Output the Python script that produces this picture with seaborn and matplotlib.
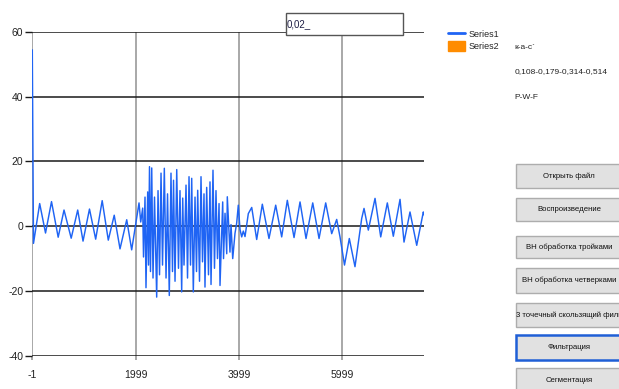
import matplotlib
matplotlib.use("Agg")
import matplotlib.pyplot as plt
from matplotlib.patches import Rectangle, Patch
from matplotlib.lines import Line2D
import seaborn as sns
import pandas as pd

# ---------------- data ----------------
sample_x = [
    -1, 22, 142, 255, 371, 500, 613, 752, 878, 981, 1106, 1226, 1352, 1470, 1585, 1697,
    1827, 1923, 2065, 2098, 2136,
    2152, 2181, 2200, 2233, 2249, 2268, 2287, 2311, 2336, 2365, 2407, 2433, 2462, 2491,
    2520, 2555, 2588, 2617, 2651, 2684, 2713, 2733, 2762, 2795, 2829, 2858, 2891, 2911,
    2936, 2975, 3004, 3033, 3062, 3085, 3116, 3149, 3178, 3201, 3236, 3265, 3294, 3323,
    3342, 3375, 3410, 3439, 3459, 3497, 3526, 3555, 3584, 3614, 3633, 3685, 3701, 3730,
    3763, 3774, 3826, 3846, 3879, 3923, 3956, 3987, 4020, 4053, 4084, 4117,
    4181, 4247, 4343, 4452, 4581, 4711, 4827, 4936, 5066, 5182, 5298, 5428, 5550, 5679,
    5795, 5892, 5956, 6043, 6136, 6246, 6376, 6421, 6504, 6634, 6744, 6872, 6988, 7118,
    7195, 7311, 7441, 7569, 7582,
]
series1 = [
    54.5, -5.3, 7.0, -2.1, 7.6, -3.4, 5.0, -3.7, 5.0, -4.6, 5.3, -4.0, 7.9, -4.3, 3.4, -7.0,
    2.0, -7.3, 7.2, 1.3, 5.6,
    -9.5, 9.0, -19.0, 10.6, -12.0, 18.4, -14.0, 18.0, -16.0, 9.0, -21.9, 11.0, -15.0, 16.4,
    -12.0, 17.9, -16.0, 10.0, -21.4, 16.4, -14.0, 14.2, -17.0, 17.5, -13.0, 11.0, -20.3, 8.7,
    -12.0, 12.7, -16.0, 15.3, -12.0, 14.8, -20.3, 9.0, -14.0, 11.1, -17.0, 15.3, -11.0, 10.0,
    -18.8, 12.0, -15.0, 13.7, -18.0, 17.3, -13.0, 11.0, -10.0, 7.0, -18.3, 7.5, -10.0, 4.0,
    -8.5, 9.1, -8.0, 0.5, -10.0, -2.2, 1.0, 6.5, -1.0, -3.3, -1.5, -3.2,
    3.9, 5.8, -4.1, 6.8, -3.8, 6.5, -3.3, 8.0, -3.5, 7.5, -3.8, 7.2, -3.8, 7.2,
    -2.3, 2.1, -3.3, -12.0, -3.8, -12.5, 2.4, 5.5, -1.2, 8.6, -3.3, 7.2, -3.1, 8.3,
    -4.9, 4.4, -5.9, 4.4, 3.5,
]
x_ticks = [-1, 1999, 3999, 5999]
y_ticks = [-40, -20, 0, 20, 40, 60]
legend_labels = ["Series1", "Series2"]
input_text = "0,02_"
info_lines = ["к-а-с`", "0,108-0,179-0,314-0,514", "P-W-F"]
buttons = ["Открыть файл", "Воспроизведение", "ВН обработка тройками",
           "ВН обработка четверками", "3 точечный скользящий фильтр",
           "Фильтрация", "Сегментация"]

# ---------------- style ----------------
sns.set_theme(style="white")
plt.rcParams["font.family"] = ["Liberation Sans", "DejaVu Sans"]

W, H = 619, 389
fig = plt.figure(figsize=(W / 100, H / 100), dpi=100)
fig.patch.set_facecolor("white")


def fx(px):
    return px / W


def fy(py):
    return 1 - py / H


ax_l, ax_r, ax_t, ax_b = 32.3, 424.0, 32.0, 355.7
ax = fig.add_axes([fx(ax_l), fy(ax_b), fx(ax_r - ax_l), (ax_b - ax_t) / H])
ax.set_facecolor("white")

df = pd.DataFrame({"x": sample_x, "y": series1})
sns.lineplot(data=df, x="x", y="y", ax=ax, color="#1f64f4", linewidth=1.05,
             sort=False, estimator=None, legend=False)

ax.set_xlim(-1, 7582)
ax.set_ylim(-40, 60)
ax.set_xticks(x_ticks)
ax.set_xticklabels([str(v) for v in x_ticks])
ax.set_yticks(y_ticks)
ax.set_yticklabels([str(v) for v in y_ticks])
ax.set_xlabel("")
ax.set_ylabel("")
for s in ax.spines.values():
    s.set_visible(False)
ax.yaxis.grid(True, color="#1a1a1a", linewidth=1.1)
ax.xaxis.grid(True, color="#9a9a9a", linewidth=1.2)
ax.set_axisbelow(True)
ax.tick_params(axis="y", which="both", left=True, length=5, width=1.0, color="#1a1a1a",
               direction="out", pad=1.5, labelsize=7.5, labelcolor="#222222")
ax.tick_params(axis="x", which="both", bottom=True, length=3, width=1.2, color="#9a9a9a",
               direction="out", pad=7, labelsize=7.5, labelcolor="#222222")

# ---------------- text box ----------------
fig.patches.append(Rectangle((fx(285.7), fy(35.0)), fx(403.3 - 285.7), (35.0 - 13.3) / H,
                             transform=fig.transFigure, facecolor="white",
                             edgecolor="#555555", linewidth=1.0, zorder=5))
fig.text(fx(287.0), fy(24.5), input_text, fontsize=7, color="#1e1e46",
         ha="left", va="center", zorder=6)

# ---------------- legend ----------------
handles = [Line2D([0], [0], color="#1f64f4", lw=2),
           Patch(facecolor="#ff8c00", edgecolor="#ff8c00")]
fig.legend(handles, legend_labels, loc="upper left", bbox_to_anchor=(fx(442), fy(23)),
           frameon=False, fontsize=6.5, handlelength=1.9, handleheight=1.3,
           handletextpad=0.35, labelspacing=0.2, borderpad=0.2)

# ---------------- info text ----------------
for t, py in zip(info_lines, [47.3, 71.7, 97.7]):
    fig.text(fx(514.5), fy(py), t, fontsize=6, color="#222222", ha="left", va="center")

# ---------------- buttons ----------------
btn_rows = [(164, 188), (198, 221), (236, 258), (268, 293), (303, 327), (335, 360), (368, 392)]
for label, (t0, t1) in zip(buttons, btn_rows):
    focused = label == "Фильтрация"
    fig.patches.append(Rectangle((fx(516), fy(t1)), fx(120), (t1 - t0) / H,
                                 transform=fig.transFigure, facecolor="#e1e1e1",
                                 edgecolor="#1f5fd6" if focused else "#adadad",
                                 linewidth=1.8 if focused else 1.0, zorder=3))
    yc = fy((t0 + t1) / 2)
    if label.startswith("3 "):
        fig.text(fx(516), yc, label, fontsize=5.6, color="#111111",
                 ha="left", va="center", zorder=4)
    else:
        fig.text(fx(569), yc, label, fontsize=5.6, color="#111111",
                 ha="center", va="center", zorder=4)

fig.savefig("out.png", dpi=100, facecolor="white")
